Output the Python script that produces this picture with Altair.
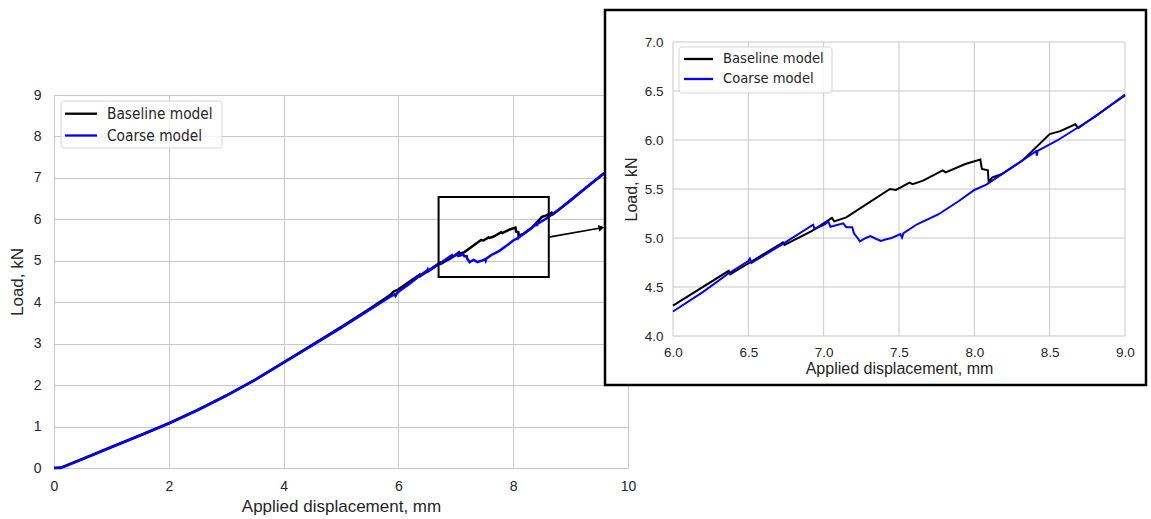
import altair as alt
import pandas as pd

# ---------------- data ----------------
series_names = ["Baseline model", "Coarse model"]
series_colors = ["#000000", "#0000ff"]

baseline_disp = [0.0, 0.12, 0.3, 0.6, 1.0, 1.5, 2.0, 2.5, 3.0, 3.5, 4.0, 4.5, 5.0, 5.5, 5.85, 5.92,
                 6.0, 6.37, 6.38, 6.51, 6.73, 6.74, 6.92, 7.01, 7.055, 7.07, 7.15, 7.29, 7.44,
                 7.48, 7.57, 7.59, 7.66, 7.79, 7.81, 7.94, 8.04, 8.05, 8.09, 8.095, 8.12, 8.18,
                 8.32, 8.5, 8.57, 8.67, 8.69, 8.78, 9.0, 9.3, 9.6, 10.0]
baseline_load = [0.0, 0.01, 0.11, 0.28, 0.51, 0.79, 1.08, 1.40, 1.75, 2.13, 2.55, 2.97, 3.40, 3.84, 4.17, 4.26,
                 4.31, 4.665, 4.63, 4.75, 4.955, 4.93, 5.07, 5.16, 5.205, 5.17, 5.21, 5.35, 5.50,
                 5.49, 5.565, 5.55, 5.585, 5.69, 5.67, 5.755, 5.80, 5.705, 5.69, 5.57, 5.62, 5.65,
                 5.79, 6.06, 6.09, 6.16, 6.12, 6.22, 6.455, 6.80, 7.13, 7.55]

coarse_disp = [0.0, 0.12, 0.3, 0.6, 1.0, 1.5, 2.0, 2.5, 3.0, 3.5, 4.0, 4.5, 5.0, 5.5, 5.85, 5.93, 5.95,
               5.97, 6.0, 6.2, 6.37, 6.5, 6.51, 6.52, 6.73, 6.93, 6.94, 7.01, 7.03, 7.045, 7.13,
               7.15, 7.19, 7.2, 7.23, 7.24, 7.28, 7.31, 7.35, 7.38, 7.41, 7.45, 7.51, 7.52, 7.53,
               7.62, 7.76, 7.9, 8.0, 8.08, 8.22, 8.41, 8.415, 8.42, 8.55, 8.69, 8.8, 9.0, 9.3, 9.6, 10.0]
coarse_load = [0.0, 0.0, 0.10, 0.27, 0.50, 0.78, 1.07, 1.39, 1.74, 2.12, 2.54, 2.96, 3.38, 3.82, 4.13, 4.19, 4.15,
               4.21, 4.25, 4.45, 4.64, 4.765, 4.79, 4.745, 4.94, 5.135, 5.09, 5.14, 5.17, 5.115, 5.15,
               5.11, 5.11, 5.05, 4.99, 4.965, 5.00, 5.02, 4.99, 4.97, 4.985, 5.00, 5.04, 5.005, 5.05,
               5.14, 5.24, 5.38, 5.49, 5.545, 5.69, 5.885, 5.84, 5.89, 5.995, 6.13, 6.235, 6.465, 6.80, 7.13, 7.55]

main_x_ticks = [0, 2, 4, 6, 8, 10]
main_y_ticks = [0, 1, 2, 3, 4, 5, 6, 7, 8, 9]
inset_x_ticks = [6.0, 6.5, 7.0, 7.5, 8.0, 8.5, 9.0]
inset_y_ticks = [4.0, 4.5, 5.0, 5.5, 6.0, 6.5, 7.0]

zoom_disp = [6.7, 8.62]      # zoomed region marked on the main plot
zoom_load = [4.61, 6.54]
arrow_disp = [8.62, 9.52]    # arrow from zoom box to the inset
arrow_load = [5.57, 5.79]

x_title = "Applied displacement, mm"
y_title = "Load, kN"

# ---------------- tables ----------------
curves = pd.concat([
    pd.DataFrame({"series": series_names[0], "disp": baseline_disp, "load": baseline_load}),
    pd.DataFrame({"series": series_names[1], "disp": coarse_disp, "load": coarse_load}),
], ignore_index=True)
legend_df = pd.DataFrame({"series": series_names})
one_row = pd.DataFrame({"k": [0]})
zoom_df = pd.DataFrame({"x0": [zoom_disp[0]], "x1": [zoom_disp[1]],
                        "y0": [zoom_load[0]], "y1": [zoom_load[1]]})
arrow_df = pd.DataFrame({"disp": arrow_disp, "load": arrow_load})
arrow_head_df = pd.DataFrame({"disp": [arrow_disp[-1]], "load": [arrow_load[-1]]})
gx_df = pd.DataFrame({"disp": inset_x_ticks, "lo": inset_y_ticks[0], "hi": inset_y_ticks[-1]})
gy_df = pd.DataFrame({"load": inset_y_ticks, "lo": inset_x_ticks[0], "hi": inset_x_ticks[-1]})

# ---------------- layout / style ----------------
W, H = 574, 373
AX_FONT = "Liberation Sans"
LEG_FONT = "DejaVu Sans Condensed, DejaVu Sans"
TXT = "#262626"
GRID = "#c8c8c8"
color_scale = alt.Scale(domain=series_names, range=series_colors)

# main scales / axes
m_xs = alt.Scale(domain=[0, 10], nice=False, zero=False)
m_ys = alt.Scale(domain=[0, 9], nice=False, zero=False)
m_xa = alt.Axis(values=main_x_ticks, title=x_title, grid=True, gridColor=GRID, gridWidth=1,
                ticks=False, domain=False, labelFlush=False, labelFont=AX_FONT, labelFontSize=14,
                labelColor=TXT, labelPadding=11, titleFont=AX_FONT, titleFontSize=17,
                titleFontWeight="normal", titleColor=TXT, titlePadding=5)
m_ya = alt.Axis(values=main_y_ticks, title=y_title, grid=True, gridColor=GRID, gridWidth=1,
                ticks=False, domain=False, labelFlush=False, labelFont=AX_FONT, labelFontSize=14,
                labelColor=TXT, labelPadding=13, titleFont=AX_FONT, titleFontSize=17,
                titleFontWeight="normal", titleColor=TXT, titlePadding=7)


def mx(f):
    return alt.X(f"{f}:Q", scale=m_xs, axis=m_xa)


def my(f):
    return alt.Y(f"{f}:Q", scale=m_ys, axis=m_ya)


main_base = alt.Chart(curves).mark_line(strokeWidth=2.5).encode(
    x=mx("disp"), y=my("load"),
    color=alt.Color("series:N", scale=color_scale, legend=None))
main_black = main_base.transform_filter(alt.datum.series == series_names[0])
main_blue = main_base.transform_filter(alt.datum.series == series_names[1])

zoom_box = alt.Chart(zoom_df).mark_rect(fillOpacity=0, stroke="black", strokeWidth=2).encode(
    x=mx("x0"), x2="x1", y=my("y0"), y2="y1")
arrow_line = alt.Chart(arrow_df).mark_line(color="black", strokeWidth=1.6).encode(
    x=mx("disp"), y=my("load"))
arrow_head = alt.Chart(arrow_head_df).mark_point(shape="triangle", angle=80, filled=True,
                                                 size=45, color="black", opacity=1).encode(
    x=mx("disp"), y=my("load"))

main_layer = alt.layer(main_black, main_blue, zoom_box, arrow_line, arrow_head)


def legend_layer(box, sym_x, txt_x, rows, font_size):
    ys = alt.Scale(type="point", domain=series_names, range=rows, padding=0)
    frame = alt.Chart(one_row).mark_rect(fill="white", fillOpacity=0.8, stroke="#d5d5d5",
                                         strokeWidth=1, cornerRadius=3).encode(
        x=alt.value(box[0]), x2=alt.value(box[1]), y=alt.value(box[2]), y2=alt.value(box[3]))
    sym = alt.Chart(legend_df).mark_rule(strokeWidth=2.3).encode(
        x=alt.value(sym_x[0]), x2=alt.value(sym_x[1]),
        y=alt.Y("series:N", scale=ys, axis=None),
        color=alt.Color("series:N", scale=color_scale, legend=None))
    lab = alt.Chart(legend_df).mark_text(align="left", baseline="middle", font=LEG_FONT,
                                         fontSize=font_size, color=TXT).encode(
        x=alt.value(txt_x), y=alt.Y("series:N", scale=ys, axis=None), text="series:N")
    return alt.layer(frame, sym, lab)


main_legend = legend_layer([7, 168, 6, 53], [11, 43], 53, [18.7, 40.5], 15.3)

# inset scales / axes (placed inside the same canvas with pixel ranges)
i_xs = alt.Scale(domain=[6, 9], range=[619, 1071], nice=False, zero=False)
i_ys = alt.Scale(domain=[4, 7], range=[241, -53], nice=False, zero=False)
i_xa = alt.Axis(orient="bottom", offset=-132, values=inset_x_ticks, format=".1f", title=x_title,
                grid=False, ticks=False, domain=False, zindex=1, labelFlush=False,
                labelFont=AX_FONT, labelFontSize=13.5, labelColor=TXT, labelPadding=9,
                titleFont=AX_FONT, titleFontSize=16, titleFontWeight="normal", titleColor=TXT,
                titlePadding=2)
i_ya = alt.Axis(orient="left", offset=-619, values=inset_y_ticks, format=".1f", title=y_title,
                grid=False, ticks=False, domain=False, zindex=1, labelFlush=False,
                labelFont=AX_FONT, labelFontSize=13.5, labelColor=TXT, labelPadding=10,
                titleFont=AX_FONT, titleFontSize=16, titleFontWeight="normal", titleColor=TXT,
                titlePadding=5)


def ix(f):
    return alt.X(f"{f}:Q", scale=i_xs, axis=i_xa)


def iy(f):
    return alt.Y(f"{f}:Q", scale=i_ys, axis=i_ya)


inset_frame = alt.Chart(one_row).mark_rect(fill="white", stroke="black", strokeWidth=2.5).encode(
    x=alt.value(551), x2=alt.value(1092), y=alt.value(-85), y2=alt.value(290))
grid_v = alt.Chart(gx_df).mark_rule(color=GRID, strokeWidth=1).encode(
    x=ix("disp"), y=iy("lo"), y2="hi")
grid_h = alt.Chart(gy_df).mark_rule(color=GRID, strokeWidth=1).encode(
    y=iy("load"), x=ix("lo"), x2="hi")
inset_base = alt.Chart(curves).transform_filter(
    alt.FieldRangePredicate(field="disp", range=[6, 9])
).mark_line(strokeWidth=2).encode(
    x=ix("disp"), y=iy("load"),
    color=alt.Color("series:N", scale=color_scale, legend=None))
inset_black = inset_base.transform_filter(alt.datum.series == series_names[0])
inset_blue = inset_base.transform_filter(alt.datum.series == series_names[1])

inset_layer = alt.layer(inset_frame, grid_v, grid_h, inset_black, inset_blue)
inset_legend = legend_layer([625, 778, -48, -2], [630, 659], 669, [-36, -16], 14.6)

chart = alt.layer(main_layer, main_legend, inset_layer, inset_legend).resolve_scale(
    x="independent", y="independent", color="independent"
).resolve_axis(x="independent", y="independent").properties(
    width=W, height=H,
    padding={"left": 54, "top": 95, "right": 523, "bottom": 51},
    autosize=alt.AutoSizeParams(type="none"),
    background="white",
).configure_view(stroke="transparent")

chart.save("out.html", embed_options={"renderer": "svg", "actions": False})
